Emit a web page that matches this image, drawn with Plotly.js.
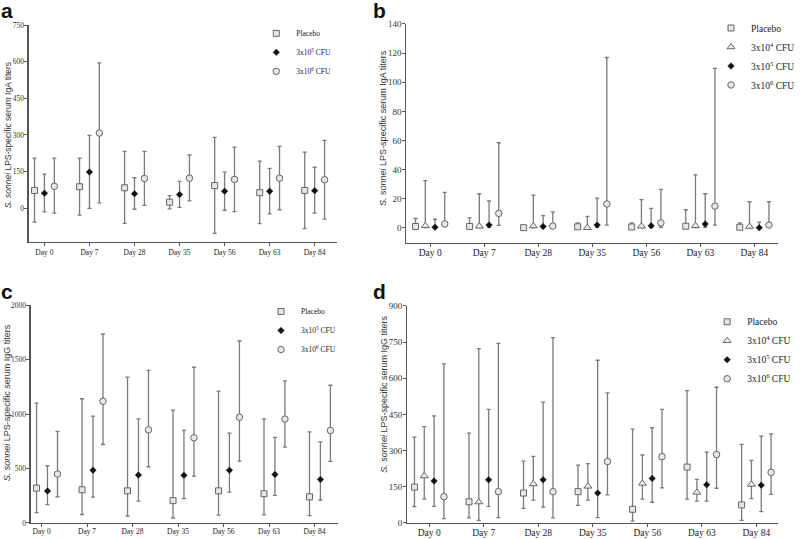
<!DOCTYPE html>
<html>
<head>
<meta charset="utf-8">
<script src="https://cdn.plot.ly/plotly-3.0.1.min.js"></script>
<style>html,body{margin:0;padding:0;background:#fff;}#chart{width:800px;height:539px;}</style>
</head>
<body>
<div id="chart"></div>
<script>
// ---- categories ----
const days = ['Day 0', 'Day 7', 'Day 28', 'Day 35', 'Day 56', 'Day 63', 'Day 84'];
const groupNames = ['Placebo', '3x10<sup>4</sup> CFU', '3x10<sup>5</sup> CFU', '3x10<sup>6</sup> CFU'];

// ---- panel a: IgA (placebo, 3x10^5, 3x10^6) ----
const aPlaceboMean  = [73, 88, 84, 25, 93, 64, 73];
const aPlaceboUpper = [205, 205, 233, 52, 290, 193, 230];
const aPlaceboLower = [-57, -28, -62, -2, -103, -63, -83];
const aDose5Mean  = [62, 148, 60, 56, 70, 70, 72];
const aDose5Upper = [140, 298, 125, 110, 148, 163, 168];
const aDose5Lower = [-15, 0, -4, 4, -8, -23, -20];
const aDose6Mean  = [90, 308, 122, 123, 118, 123, 117];
const aDose6Upper = [205, 595, 233, 218, 250, 253, 278];
const aDose6Lower = [-20, 22, 12, 30, -14, -6, -44];

// ---- panel b: IgA (placebo, 3x10^4, 3x10^5, 3x10^6) ----
const bPlaceboMean  = [1, 1, 0.2, 0.8, 0.7, 1.2, 0.5];
const bPlaceboUpper = [6.5, 7, 0.8, 3.5, 3.5, 12.5, 3.5];
const bPlaceboLower = [0.2, 0.2, 0, 0.1, 0.1, 0.3, 0.1];
const bDose4Mean  = [1.5, 1.2, 1.3, 0.2, 1.2, 1.5, 1];
const bDose4Upper = [32.5, 23.5, 22.5, 8, 19.5, 36.5, 18];
const bDose4Lower = [0.3, 0.3, 0.3, 0, 0.3, 0.3, 0.2];
const bDose5Mean  = [0.5, 2, 1, 2, 1.5, 2.8, 0.2];
const bDose5Upper = [6, 18.5, 8.5, 20.5, 13.5, 23.5, 4];
const bDose5Lower = [0, 0.5, 0.2, 0.5, 0.3, 0.5, 0];
const bDose6Mean  = [2.8, 10, 1.3, 16.5, 3.5, 15, 2];
const bDose6Upper = [24.5, 58.5, 11, 117, 26.5, 109.5, 18];
const bDose6Lower = [1, 1.8, 0.3, 2, 0.5, 2, 0.5];

// ---- panel c: IgG (placebo, 3x10^5, 3x10^6) ----
const cPlaceboMean  = [320, 305, 295, 205, 295, 268, 240];
const cPlaceboUpper = [1100, 1140, 1338, 1035, 1210, 955, 836];
const cPlaceboLower = [95, 78, 64, 46, 73, 74, 68];
const cDose5Mean  = [294, 485, 440, 437, 485, 446, 400];
const cDose5Upper = [525, 980, 956, 849, 824, 785, 745];
const cDose5Lower = [168, 238, 201, 223, 284, 253, 211];
const cDose6Mean  = [449, 1117, 855, 782, 971, 953, 849];
const cDose6Upper = [840, 1734, 1401, 1429, 1670, 1304, 1264];
const cDose6Lower = [241, 720, 516, 430, 568, 696, 565];

// ---- panel d: IgG (placebo, 3x10^4, 3x10^5, 3x10^6) ----
const dPlaceboMean  = [149, 88, 124, 130, 57, 232, 75];
const dPlaceboUpper = [356, 373, 257, 240, 389, 549, 326];
const dPlaceboLower = [68, 21, 61, 73, 8, 99, 11];
const dDose4Mean  = [195, 87, 162, 152, 164, 127, 160];
const dDose4Upper = [400, 723, 276, 246, 282, 181, 260];
const dDose4Lower = [99, 11, 95, 95, 99, 91, 101];
const dDose5Mean  = [174, 179, 179, 124, 185, 159, 157];
const dDose5Upper = [444, 471, 501, 675, 395, 294, 360];
const dDose5Lower = [69, 69, 66, 22, 86, 91, 47];
const dDose6Mean  = [109, 130, 130, 255, 275, 284, 210];
const dDose6Upper = [660, 745, 769, 540, 471, 563, 370];
const dDose6Lower = [18, 22, 21, 117, 146, 144, 119];

// ---- styles ----
const SERIF = 'Liberation Serif, Times New Roman, serif';
const SANS = 'Liberation Sans, Arial, sans-serif';
const markerStyles = [
  {symbol: 'square', size: 6, color: '#e6e6e6', line: {color: '#666', width: 1}},
  {symbol: 'triangle-up', size: 7, color: '#f0f0f0', line: {color: '#666', width: 1}},
  {symbol: 'diamond', size: 5, color: '#111', line: {color: '#111', width: 0.5}},
  {symbol: 'circle', size: 6.5, color: '#e6e6e6', line: {color: '#666', width: 1}}
];

function makeTrace(groupIdx, mean, upper, lower, offset, xa, ya, legend) {
  return {
    type: 'scatter', mode: 'markers',
    name: groupNames[groupIdx],
    x: days.map((d, i) => i + offset),
    y: mean,
    xaxis: xa, yaxis: ya, legend: legend,
    marker: markerStyles[groupIdx],
    error_y: {
      type: 'data', symmetric: false,
      array: upper.map((u, i) => u - mean[i]),
      arrayminus: lower.map((l, i) => mean[i] - l),
      color: '#7a7a7a', thickness: 1.3, width: 2
    },
    hoverinfo: 'skip'
  };
}

const traces = [
  makeTrace(0, aPlaceboMean, aPlaceboUpper, aPlaceboLower, -0.22, 'x', 'y', 'legend'),
  makeTrace(2, aDose5Mean, aDose5Upper, aDose5Lower, 0.0, 'x', 'y', 'legend'),
  makeTrace(3, aDose6Mean, aDose6Upper, aDose6Lower, 0.22, 'x', 'y', 'legend'),

  makeTrace(0, bPlaceboMean, bPlaceboUpper, bPlaceboLower, -0.27, 'x2', 'y2', 'legend2'),
  makeTrace(1, bDose4Mean, bDose4Upper, bDose4Lower, -0.09, 'x2', 'y2', 'legend2'),
  makeTrace(2, bDose5Mean, bDose5Upper, bDose5Lower, 0.09, 'x2', 'y2', 'legend2'),
  makeTrace(3, bDose6Mean, bDose6Upper, bDose6Lower, 0.27, 'x2', 'y2', 'legend2'),

  makeTrace(0, cPlaceboMean, cPlaceboUpper, cPlaceboLower, -0.11, 'x3', 'y3', 'legend3'),
  makeTrace(2, cDose5Mean, cDose5Upper, cDose5Lower, 0.13, 'x3', 'y3', 'legend3'),
  makeTrace(3, cDose6Mean, cDose6Upper, cDose6Lower, 0.35, 'x3', 'y3', 'legend3'),

  makeTrace(0, dPlaceboMean, dPlaceboUpper, dPlaceboLower, -0.27, 'x4', 'y4', 'legend4'),
  makeTrace(1, dDose4Mean, dDose4Upper, dDose4Lower, -0.09, 'x4', 'y4', 'legend4'),
  makeTrace(2, dDose5Mean, dDose5Upper, dDose5Lower, 0.09, 'x4', 'y4', 'legend4'),
  makeTrace(3, dDose6Mean, dDose6Upper, dDose6Lower, 0.27, 'x4', 'y4', 'legend4')
];

function xAxis(domain, range, anchor, fs, standoff) {
  return {
    domain: domain, range: range, anchor: anchor,
    tickvals: days.map((d, i) => i), ticktext: days,
    showline: true, linecolor: '#555', linewidth: 1.2,
    ticks: 'outside', ticklen: 3, tickcolor: '#555', tickwidth: 1,
    showgrid: false, zeroline: false, ticklabeloverflow: 'allow',
    ticklabelstandoff: standoff,
    tickfont: {family: SERIF, size: fs, color: '#222'}
  };
}
function yAxis(domain, range, dtick, anchor, fs) {
  return {
    domain: domain, range: range, anchor: anchor, tick0: 0, dtick: dtick,
    showline: true, linecolor: '#555', linewidth: 1.2,
    ticks: 'outside', ticklen: 3, tickcolor: '#555', tickwidth: 1,
    showgrid: false, zeroline: false, ticklabeloverflow: 'allow',
    ticklabelstandoff: -1,
    tickfont: {family: SERIF, size: fs, color: '#333'}
  };
}
function legendBox(x, y, fs) {
  return {x: x, y: y, xanchor: 'left', yanchor: 'top', bgcolor: 'rgba(0,0,0,0)',
          borderwidth: 0, font: {family: SERIF, size: fs, color: '#222'},
          itemwidth: 30, tracegroupgap: 0};
}
function ytitle(text, x, y, fs) {
  return {text: text, x: x, y: y, xref: 'paper', yref: 'paper', textangle: -90,
          showarrow: false, font: {family: SANS, size: fs, color: '#333'},
          xanchor: 'center', yanchor: 'middle'};
}
function letter(t, x, y) {
  return {text: '<b>' + t + '</b>', x: x, y: y, xref: 'paper', yref: 'paper',
          showarrow: false, font: {family: SANS, size: 21, color: '#111'},
          xanchor: 'left', yanchor: 'middle'};
}

const layout = {
  width: 800, height: 539,
  margin: {l: 0, r: 0, t: 0, b: 0},
  paper_bgcolor: '#fff', plot_bgcolor: '#fff',
  showlegend: true,
  xaxis:  xAxis([0.03625, 0.42625], [-0.35, 6.5], 'y', 7.5, 0),
  yaxis:  yAxis([0.551, 0.9536], [-138, 750], 150, 'x', 7.5),
  xaxis2: xAxis([0.51375, 0.98375], [-0.44, 6.44], 'y2', 9.5, -3),
  yaxis2: yAxis([0.5492, 0.9555], [-10.3, 140], 20, 'x2', 9),
  xaxis3: xAxis([0.03875, 0.4275], [-0.24, 6.52], 'y3', 7.5, -2),
  yaxis3: yAxis([0.0297, 0.4341], [0, 2000], 500, 'x3', 7.5),
  xaxis4: xAxis([0.515, 0.98375], [-0.40, 6.40], 'y4', 9.5, -3),
  yaxis4: yAxis([0.0297, 0.4323], [0, 900], 150, 'x4', 9),
  legend:  legendBox(0.324, 0.965, 7.5),
  legend2: legendBox(0.899, 0.975, 9.5),
  legend3: legendBox(0.33, 0.449, 7.5),
  legend4: legendBox(0.894, 0.43, 9.5),
  annotations: [
    letter('a', -0.001, 0.9805), letter('b', 0.469, 0.9805),
    letter('c', -0.001, 0.4588), letter('d', 0.469, 0.4588),
    ytitle('<i>S. sonnei</i> LPS-specific serum IgA titers', 0.0095, 0.748, 8.5),
    ytitle('<i>S. sonnei</i> LPS-specific serum IgA titers', 0.485, 0.762, 9),
    ytitle('<i>S. sonnei</i> LPS-specific serum IgG titers', 0.009, 0.252, 9),
    ytitle('<i>S. sonnei</i> LPS-specific serum IgG titers', 0.485, 0.269, 9)
  ]
};

Plotly.newPlot('chart', traces, layout, {staticPlot: true, displayModeBar: false});
</script>
</body>
</html>
